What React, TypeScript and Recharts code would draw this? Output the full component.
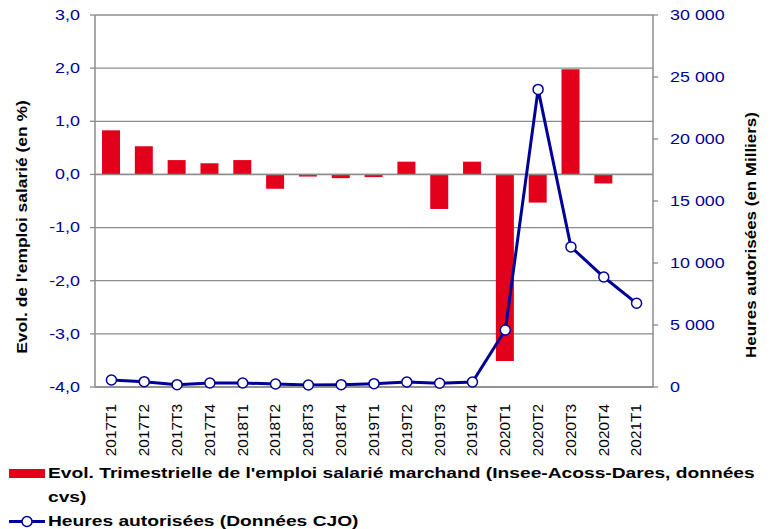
import {
  ComposedChart,
  Bar,
  Line,
  XAxis,
  YAxis,
  CartesianGrid,
  ReferenceLine,
  Legend,
} from "recharts";

const quarters = [
  "2017T1", "2017T2", "2017T3", "2017T4",
  "2018T1", "2018T2", "2018T3", "2018T4",
  "2019T1", "2019T2", "2019T3", "2019T4",
  "2020T1", "2020T2", "2020T3", "2020T4",
  "2021T1",
];

// evol. trimestrielle de l'emploi salarié (%)
const emploi = [
  0.83, 0.53, 0.27, 0.21,
  0.27, -0.27, -0.04, -0.07,
  -0.05, 0.24, -0.65, 0.24,
  -3.51, -0.53, 1.98, -0.17,
  null,
];

// heures autorisées (milliers)
const heures = [
  560, 430, 190, 320,
  320, 240, 160, 190,
  270, 400, 300, 400,
  4600, 24000, 11300, 8870,
  6750,
];

const leftTicks = [-4, -3, -2, -1, 0, 1, 2, 3];
const rightTicks = [0, 5000, 10000, 15000, 20000, 25000, 30000];

const barName =
  "Evol. Trimestrielle de l'emploi salarié marchand (Insee-Acoss-Dares, données cvs)";
const lineName = "Heures autorisées (Données CJO)";

const data = quarters.map((q, i) => ({
  q,
  emploi: emploi[i],
  heures: heures[i],
}));

const FONT = "'Liberation Sans', Arial, sans-serif";
const NAVY = "#000099";
const RED = "#E2001A";
const GRAY = "#8c8c8c";
const SX = 1.28;

const fmtLeft = (v: number) => v.toFixed(1).replace(".", ",");
const fmtRight = (v: number) =>
  String(v).replace(/\B(?=(\d{3})+(?!\d))/g, " ");

const LeftTick = ({ x, y, payload }: any) => (
  <g transform={`translate(${x},${y})`}>
    <text
      transform={`scale(${SX},1)`}
      textAnchor="end"
      dy="0.35em"
      fill={NAVY}
      fontSize={14}
      fontFamily={FONT}
    >
      {fmtLeft(payload.value)}
    </text>
  </g>
);

const RightTick = ({ x, y, payload }: any) => (
  <g transform={`translate(${x},${y})`}>
    <text
      transform={`scale(${SX},1)`}
      textAnchor="start"
      dy="0.35em"
      fill={NAVY}
      fontSize={14}
      fontFamily={FONT}
    >
      {fmtRight(payload.value)}
    </text>
  </g>
);

const BottomTick = ({ x, y, payload }: any) => (
  <g transform={`translate(${x},${y})`}>
    <text
      transform="rotate(-90) scale(1.1,1)"
      textAnchor="end"
      dy="0.35em"
      fill="#000"
      fontSize={14}
      fontFamily={FONT}
    >
      {payload.value}
    </text>
  </g>
);

const LegendBox = () => (
  <div
    style={{
      fontFamily: FONT,
      fontWeight: "bold",
      fontSize: 15,
      color: "#000",
      lineHeight: "24px",
      paddingTop: 0,
    }}
  >
    <div style={{ display: "flex", alignItems: "flex-start" }}>
      <svg width={48} height={24} style={{ flex: "none" }}>
        <rect x={9} y={8} width={36} height={9} fill={RED} />
      </svg>
      <div
        style={{
          transform: `scaleX(${SX})`,
          transformOrigin: "left",
          whiteSpace: "nowrap",
        }}
      >
        {barName.replace(" cvs)", "")}
        <br />
        cvs)
      </div>
    </div>
    <div style={{ display: "flex", alignItems: "flex-start" }}>
      <svg width={48} height={24} style={{ flex: "none" }}>
        <line x1={9} x2={45} y1={12.5} y2={12.5} stroke={NAVY} strokeWidth={3} />
        <circle cx={27} cy={12.5} r={5} fill="#fff" stroke={NAVY} strokeWidth={1.5} />
      </svg>
      <div
        style={{
          transform: `scaleX(${SX})`,
          transformOrigin: "left",
          whiteSpace: "nowrap",
        }}
      >
        {lineName}
      </div>
    </div>
  </div>
);

export default function App() {
  return (
    <div
      style={{
        position: "absolute",
        left: 0,
        top: 0,
        width: 772,
        height: 529,
        background: "#fff",
        overflow: "hidden",
      }}
    >
      <ComposedChart
        width={772}
        height={529}
        data={data}
        margin={{ top: 15, right: 0, bottom: 0, left: 0 }}
      >
        <CartesianGrid
          yAxisId="left"
          vertical={false}
          stroke={GRAY}
          strokeWidth={1.3}
        />
        <XAxis
          dataKey="q"
          interval={0}
          height={74}
          axisLine={{ stroke: GRAY, strokeWidth: 1.5 }}
          tickLine={false}
          tick={<BottomTick />}
          tickMargin={11}
        />
        <YAxis
          yAxisId="left"
          width={95}
          domain={[-4, 3]}
          ticks={leftTicks}
          interval={0}
          axisLine={{ stroke: GRAY, strokeWidth: 1.5 }}
          tickLine={{ stroke: GRAY, strokeWidth: 1.3 }}
          tickSize={5}
          tickMargin={10}
          tick={<LeftTick />}
          label={{
            content: () => (
              <text
                transform="translate(27,227) rotate(-90) scale(1.16,1)"
                textAnchor="middle"
                fontFamily={FONT}
                fontWeight="bold"
                fontSize={15}
                fill="#000"
              >
                Evol. de l'emploi salarié (en %)
              </text>
            ),
          }}
        />
        <YAxis
          yAxisId="right"
          orientation="right"
          width={119}
          domain={[0, 30000]}
          ticks={rightTicks}
          interval={0}
          axisLine={{ stroke: GRAY, strokeWidth: 1.5 }}
          tickLine={{ stroke: GRAY, strokeWidth: 1.3 }}
          tickSize={5}
          tickMargin={12}
          tick={<RightTick />}
          label={{
            content: () => (
              <text
                transform="translate(756,235) rotate(-90) scale(1.13,1)"
                textAnchor="middle"
                fontFamily={FONT}
                fontWeight="bold"
                fontSize={15}
                fill="#000"
              >
                Heures autorisées (en Milliers)
              </text>
            ),
          }}
        />
        <ReferenceLine yAxisId="left" y={0} stroke={GRAY} strokeWidth={1.5} />
        <Bar
          yAxisId="left"
          dataKey="emploi"
          name={barName}
          fill={RED}
          barSize={18}
          isAnimationActive={false}
        />
        <Line
          yAxisId="right"
          dataKey="heures"
          name={lineName}
          type="linear"
          stroke={NAVY}
          strokeWidth={3}
          dot={{ r: 5, fill: "#fff", stroke: NAVY, strokeWidth: 1.5 }}
          isAnimationActive={false}
        />
        <Legend
          verticalAlign="bottom"
          align="left"
          height={68}
          content={() => <LegendBox />}
          wrapperStyle={{ left: 0, width: 772 }}
        />
      </ComposedChart>
    </div>
  );
}
